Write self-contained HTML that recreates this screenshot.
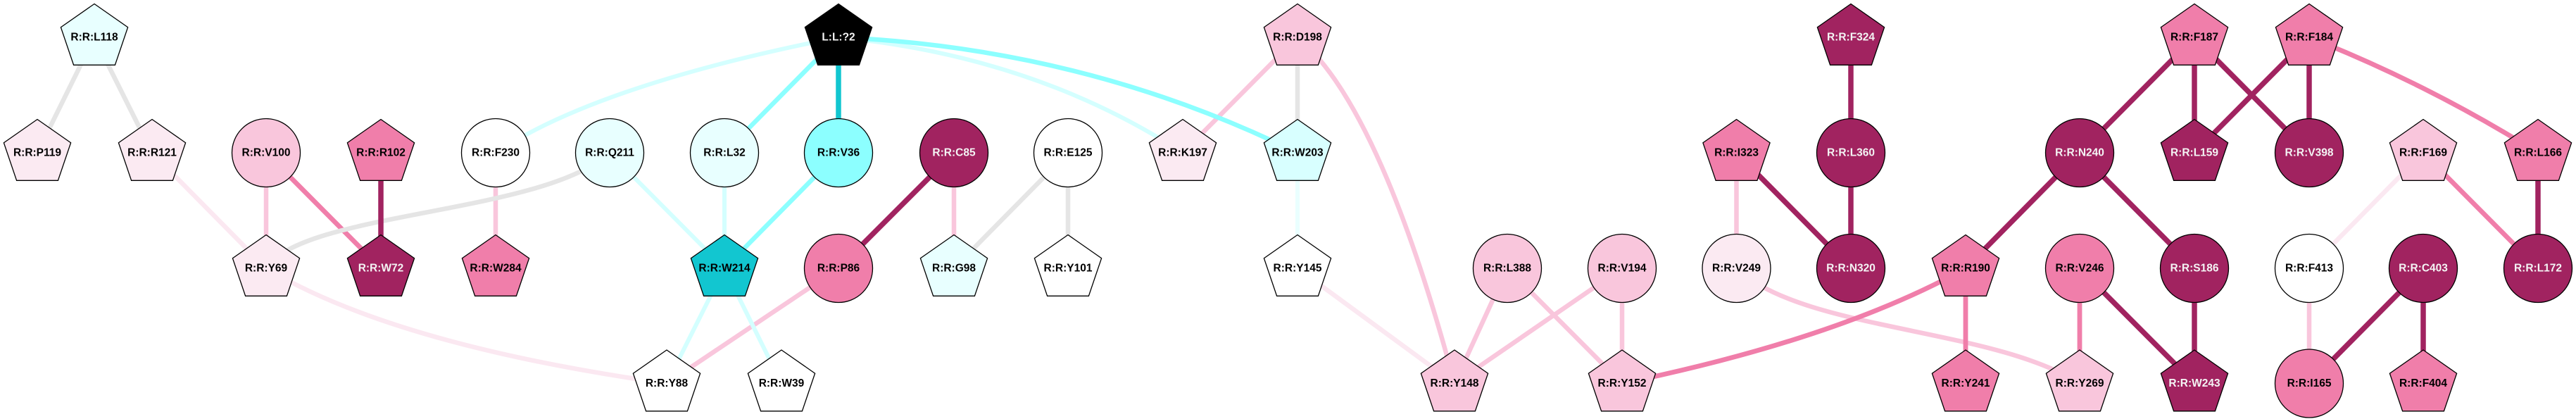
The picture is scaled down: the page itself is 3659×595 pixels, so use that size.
<!DOCTYPE html>
<html><head><meta charset="utf-8">
<style>
html,body{margin:0;padding:0;background:#fff;}
svg{display:block;}
text{font-family:"Liberation Sans",Arial,sans-serif;font-weight:bold;font-size:15.5px;text-anchor:middle;fill:#000;stroke:none;}
text.w{fill:#f4f4f4;stroke:none;}
.n use,.n circle{stroke:#000;stroke-width:1.3;}
path,line{fill:none;}
</style></head>
<body>
<svg width="3659" height="595" viewBox="0 0 3659 595" xmlns="http://www.w3.org/2000/svg">
<defs>
<polygon id="pg" points="0,-48 47.6,-14.8 29.4,38.8 -29.4,38.8 -47.6,-14.8"/>
</defs>
<rect width="3659" height="595" fill="#fff"/>

<!-- edges -->
<g stroke-linecap="butt">
<g stroke="#fbe8f1" stroke-width="6.5">
<line x1="216" y1="217" x2="378" y2="381"/>
<path d="M378,381 Q560,490 947,544.5"/>
<line x1="1843" y1="381" x2="2066" y2="544.5"/>
<line x1="3442" y1="217" x2="3280" y2="381"/>
</g>
<g stroke="#f9c6dc" stroke-width="6.5">
<line x1="378" y1="217" x2="378" y2="381"/>
<line x1="704" y1="217" x2="704" y2="381"/>
<line x1="1191" y1="381" x2="947" y2="544.5"/>
<line x1="1355" y1="217" x2="1355" y2="381"/>
<line x1="1843" y1="53" x2="1680" y2="217"/>
<path d="M1843,53 Q1960,150 2066,544.5"/>
<line x1="2141" y1="381" x2="2066" y2="544.5"/>
<line x1="2141" y1="381" x2="2304" y2="544.5"/>
<line x1="2304" y1="381" x2="2066" y2="544.5"/>
<line x1="2304" y1="381" x2="2304" y2="544.5"/>
<line x1="2466.5" y1="217" x2="2466.5" y2="381"/>
<path d="M2466.5,381 C2560,470 2830,465 2954,544.5"/>
<line x1="3280" y1="381" x2="3280" y2="544.5"/>
</g>
<g stroke="#f07eaa" stroke-width="6.8">
<line x1="378" y1="217" x2="541" y2="381"/>
<path d="M2792,381 Q2612,481 2304,544.5"/>
<line x1="2792" y1="381" x2="2792" y2="544.5"/>
<line x1="2954" y1="381" x2="2954" y2="544.5"/>
<path d="M3280,53 Q3450,120 3605,217"/>
<line x1="3442" y1="217" x2="3605" y2="381"/>
</g>
<g stroke="#e5e5e5" stroke-width="6.5">
<line x1="134" y1="53" x2="53" y2="217"/>
<line x1="134" y1="53" x2="216" y2="217"/>
<path d="M378,381 C430,300 770,305 866,217"/>
<line x1="1517" y1="217" x2="1355" y2="381"/>
<line x1="1517" y1="217" x2="1517" y2="381"/>
<line x1="1843" y1="53" x2="1843" y2="217"/>
</g>
<g stroke="#a12360" stroke-width="7.5">
<line x1="541" y1="217" x2="541" y2="381"/>
<line x1="1355" y1="217" x2="1191" y2="381"/>
<line x1="2466.5" y1="217" x2="2629" y2="381"/>
<line x1="2629" y1="53" x2="2629" y2="217"/>
<line x1="2629" y1="217" x2="2629" y2="381"/>
<line x1="2954" y1="217" x2="2792" y2="381"/>
<line x1="2954" y1="381" x2="3117" y2="544.5"/>
<line x1="2954" y1="217" x2="3117" y2="53"/>
<line x1="2954" y1="217" x2="3117" y2="381"/>
<line x1="3117" y1="381" x2="3117" y2="544.5"/>
<line x1="3117" y1="53" x2="3117" y2="217"/>
<line x1="3117" y1="53" x2="3280" y2="217"/>
<line x1="3280" y1="53" x2="3117" y2="217"/>
<line x1="3280" y1="53" x2="3280" y2="217"/>
<line x1="3605" y1="217" x2="3605" y2="381"/>
<line x1="3442" y1="381" x2="3280" y2="544.5"/>
<line x1="3442" y1="381" x2="3442" y2="544.5"/>
</g>
<g stroke="#d4ffff" stroke-width="6">
<path d="M704,217 Q850,120 1191,53"/>
<path d="M1191,53 Q1470,80 1680,217"/>
<line x1="866" y1="217" x2="1029" y2="381"/>
<line x1="1029" y1="217" x2="1029" y2="381"/>
<line x1="1029" y1="381" x2="947" y2="544.5"/>
<line x1="1029" y1="381" x2="1110" y2="544.5"/>
</g>
<line x1="1843" y1="217" x2="1843" y2="381" stroke="#eaffff" stroke-width="6"/>
<g stroke="#8cffff" stroke-width="6.5">
<line x1="1029" y1="217" x2="1191" y2="53"/>
<line x1="1191" y1="217" x2="1029" y2="381"/>
<path d="M1191,53 Q1540,68 1843,217"/>
</g>
<line x1="1191" y1="53" x2="1191" y2="217" stroke="#12c6d0" stroke-width="7.5"/>
</g>

<!-- nodes -->
<g class="n">
<g transform="translate(134,53.5)"><use href="#pg" fill="#e8ffff"/><text y="4">R:R:L118</text></g>
<g transform="translate(1191,53.5)"><use href="#pg" fill="#000"/><text class="w" y="4">L:L:?2</text></g>
<g transform="translate(1843,53.5)"><use href="#pg" fill="#f9c6dc"/><text y="4">R:R:D198</text></g>
<g transform="translate(2629,53.5)"><use href="#pg" fill="#a12360"/><text class="w" y="4">R:R:F324</text></g>
<g transform="translate(3117,53.5)"><use href="#pg" fill="#f07eaa"/><text y="4">R:R:F187</text></g>
<g transform="translate(3280,53.5)"><use href="#pg" fill="#f07eaa"/><text y="4">R:R:F184</text></g>

<g transform="translate(53,217.5)"><use href="#pg" fill="#fbeaf2"/><text y="4">R:R:P119</text></g>
<g transform="translate(216,217.5)"><use href="#pg" fill="#fbeaf2"/><text y="4">R:R:R121</text></g>
<g transform="translate(378,217)"><circle r="48.5" fill="#f9c6dc"/><text y="4.5">R:R:V100</text></g>
<g transform="translate(541,217.5)"><use href="#pg" fill="#f07eaa"/><text y="4">R:R:R102</text></g>
<g transform="translate(704,217)"><circle r="48.5" fill="#ffffff"/><text y="4.5">R:R:F230</text></g>
<g transform="translate(866,217)"><circle r="48.5" fill="#e8ffff"/><text y="4.5">R:R:Q211</text></g>
<g transform="translate(1029,217)"><circle r="48.5" fill="#e8ffff"/><text y="4.5">R:R:L32</text></g>
<g transform="translate(1191,217)"><circle r="48.5" fill="#8cffff"/><text y="4.5">R:R:V36</text></g>
<g transform="translate(1355,217)"><circle r="48.5" fill="#a12360"/><text class="w" y="4.5">R:R:C85</text></g>
<g transform="translate(1517,217)"><circle r="48.5" fill="#ffffff"/><text y="4.5">R:R:E125</text></g>
<g transform="translate(1680,217.5)"><use href="#pg" fill="#fbeaf2"/><text y="4">R:R:K197</text></g>
<g transform="translate(1843,217.5)"><use href="#pg" fill="#d8ffff"/><text y="4">R:R:W203</text></g>
<g transform="translate(2466.5,217.5)"><use href="#pg" fill="#f07eaa"/><text y="4">R:R:I323</text></g>
<g transform="translate(2629,217)"><circle r="48.5" fill="#a12360"/><text class="w" y="4.5">R:R:L360</text></g>
<g transform="translate(2954,217)"><circle r="48.5" fill="#a12360"/><text class="w" y="4.5">R:R:N240</text></g>
<g transform="translate(3117,217.5)"><use href="#pg" fill="#a12360"/><text class="w" y="4">R:R:L159</text></g>
<g transform="translate(3280,217)"><circle r="48.5" fill="#a12360"/><text class="w" y="4.5">R:R:V398</text></g>
<g transform="translate(3442,217.5)"><use href="#pg" fill="#f9c6dc"/><text y="4">R:R:F169</text></g>
<g transform="translate(3605,217.5)"><use href="#pg" fill="#f07eaa"/><text y="4">R:R:L166</text></g>

<g transform="translate(378,381.5)"><use href="#pg" fill="#fbeaf2"/><text y="4">R:R:Y69</text></g>
<g transform="translate(541,381.5)"><use href="#pg" fill="#a12360"/><text class="w" y="4">R:R:W72</text></g>
<g transform="translate(704,381.5)"><use href="#pg" fill="#f07eaa"/><text y="4">R:R:W284</text></g>
<g transform="translate(1029,381.5)"><use href="#pg" fill="#12c6d0"/><text y="4">R:R:W214</text></g>
<g transform="translate(1191,381)"><circle r="48.5" fill="#f07eaa"/><text y="4.5">R:R:P86</text></g>
<g transform="translate(1355,381.5)"><use href="#pg" fill="#e8ffff"/><text y="4">R:R:G98</text></g>
<g transform="translate(1517,381.5)"><use href="#pg" fill="#ffffff"/><text y="4">R:R:Y101</text></g>
<g transform="translate(1843,381.5)"><use href="#pg" fill="#ffffff"/><text y="4">R:R:Y145</text></g>
<g transform="translate(2141,381)"><circle r="48.5" fill="#f9c6dc"/><text y="4.5">R:R:L388</text></g>
<g transform="translate(2304,381)"><circle r="48.5" fill="#f9c6dc"/><text y="4.5">R:R:V194</text></g>
<g transform="translate(2466.5,381)"><circle r="48.5" fill="#fbeaf2"/><text y="4.5">R:R:V249</text></g>
<g transform="translate(2629,381)"><circle r="48.5" fill="#a12360"/><text class="w" y="4.5">R:R:N320</text></g>
<g transform="translate(2792,381.5)"><use href="#pg" fill="#f07eaa"/><text y="4">R:R:R190</text></g>
<g transform="translate(2954,381)"><circle r="48.5" fill="#f07eaa"/><text y="4.5">R:R:V246</text></g>
<g transform="translate(3117,381)"><circle r="48.5" fill="#a12360"/><text class="w" y="4.5">R:R:S186</text></g>
<g transform="translate(3280,381)"><circle r="48.5" fill="#ffffff"/><text y="4.5">R:R:F413</text></g>
<g transform="translate(3442,381)"><circle r="48.5" fill="#a12360"/><text class="w" y="4.5">R:R:C403</text></g>
<g transform="translate(3605,381)"><circle r="48.5" fill="#a12360"/><text class="w" y="4.5">R:R:L172</text></g>

<g transform="translate(947,545)"><use href="#pg" fill="#ffffff"/><text y="4">R:R:Y88</text></g>
<g transform="translate(1110,545)"><use href="#pg" fill="#ffffff"/><text y="4">R:R:W39</text></g>
<g transform="translate(2066,545)"><use href="#pg" fill="#f9c6dc"/><text y="4">R:R:Y148</text></g>
<g transform="translate(2304,545)"><use href="#pg" fill="#f9c6dc"/><text y="4">R:R:Y152</text></g>
<g transform="translate(2792,545)"><use href="#pg" fill="#f07eaa"/><text y="4">R:R:Y241</text></g>
<g transform="translate(2954,545)"><use href="#pg" fill="#f9c6dc"/><text y="4">R:R:Y269</text></g>
<g transform="translate(3117,545)"><use href="#pg" fill="#a12360"/><text class="w" y="4">R:R:W243</text></g>
<g transform="translate(3280,544.5)"><circle r="48.5" fill="#f07eaa"/><text y="4.5">R:R:I165</text></g>
<g transform="translate(3442,545)"><use href="#pg" fill="#f07eaa"/><text y="4">R:R:F404</text></g>
</g>
</svg>
</body></html>
